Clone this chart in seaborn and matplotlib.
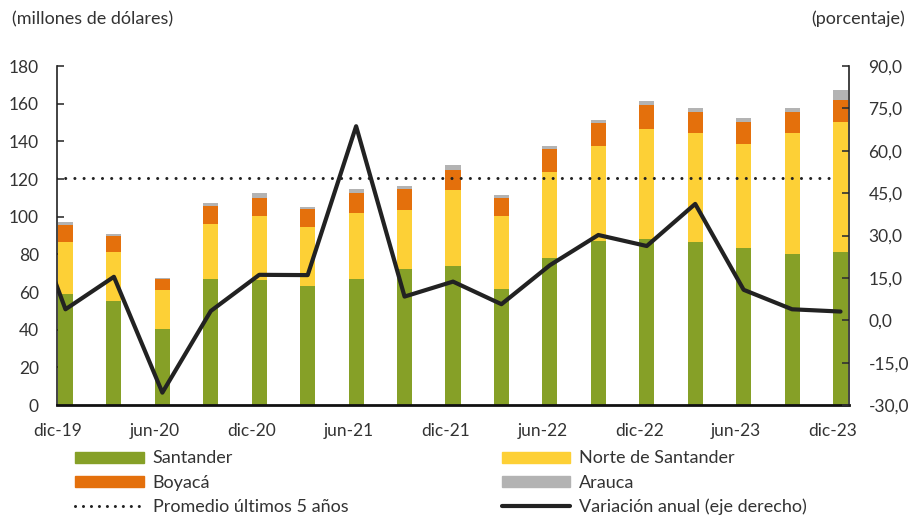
import numpy as np
import pandas as pd
import matplotlib
matplotlib.use('Agg')
import matplotlib.pyplot as plt
import seaborn as sns
from matplotlib.patches import Patch
from matplotlib.lines import Line2D

# datos (millones de dólares)
trimestres = ['dic-19', 'mar-20', 'jun-20', 'sep-20', 'dic-20', 'mar-21', 'jun-21', 'sep-21', 'dic-21',
              'mar-22', 'jun-22', 'sep-22', 'dic-22', 'mar-23', 'jun-23', 'sep-23', 'dic-23']
santander = [58.9, 55.5, 40.4, 67.0, 66.3, 63.0, 67.0, 72.5, 73.8, 61.5, 78.0, 86.9, 88.1, 86.7, 83.3, 80.0, 81.2]
norte = [27.8, 25.9, 20.5, 29.3, 34.1, 31.3, 34.8, 31.2, 40.2, 38.9, 45.8, 50.4, 58.7, 57.5, 55.4, 64.2, 69.2]
boyaca = [9.1, 8.2, 6.1, 9.6, 9.7, 9.6, 11.0, 11.0, 11.0, 9.7, 12.0, 12.2, 12.3, 11.5, 11.7, 11.5, 11.5]
arauca = [1.2, 1.2, 0.6, 1.4, 2.5, 1.4, 2.1, 1.5, 2.7, 1.3, 1.5, 2.1, 2.6, 2.1, 2.1, 2.1, 5.5]
promedio = 120.6
# variación anual (%), el primer valor (sep-19) queda recortado por el eje
variacion = [50.0, 3.9, 15.4, -25.6, 3.3, 16.1, 16.0, 68.7, 8.4, 13.7, 5.7, 19.5, 30.2, 26.3, 41.2, 10.8, 3.9, 3.1]

colores = {'Santander': '#86A027', 'Norte de Santander': '#FDD036',
           'Boyacá': '#E4700C', 'Arauca': '#B3B3B3'}

sns.set_theme(style='white')
plt.rcParams['font.family'] = ['Lato', 'DejaVu Sans']
plt.rcParams['text.color'] = '#333333'

n = len(trimestres)
df = pd.DataFrame({'pos': np.arange(n) + 0.155,
                   'Santander': santander, 'Norte': norte, 'Boyaca': boyaca, 'Arauca': arauca})
df['c1'] = df['Santander']
df['c2'] = df['c1'] + df['Norte']
df['c3'] = df['c2'] + df['Boyaca']
df['c4'] = df['c3'] + df['Arauca']

fig = plt.figure(figsize=(9.09, 5.16), dpi=100)
ax = fig.add_axes([0.0627, 0.215, 0.8713, 0.657])

# barras apiladas: se dibujan los acumulados de arriba hacia abajo
for col, nombre in [('c4', 'Arauca'), ('c3', 'Boyacá'), ('c2', 'Norte de Santander'), ('c1', 'Santander')]:
    sns.barplot(data=df, x='pos', y=col, native_scale=True, width=0.31, color=colores[nombre],
                saturation=1, errorbar=None, ax=ax, linewidth=0)

# promedio últimos 5 años
xs_prom = np.arange(-1, n)
sns.lineplot(x=xs_prom, y=np.full(len(xs_prom), promedio), ax=ax, color='#222222',
             linewidth=2.2, linestyle=(0, (0.01, 3.0)), dash_capstyle='round')

ax.set_ylim(0, 180)
ax.set_yticks(range(0, 181, 20))
ax.set_xlim(-0.02, 16.33)
ax.set_xticks(range(0, n, 2))
ax.set_xticklabels(trimestres[::2])
ax.set_xlabel('')
ax.set_ylabel('')

# variación anual en eje derecho
ax2 = ax.twinx()
xs_var = np.arange(-1, n) + 0.155
sns.lineplot(x=xs_var, y=variacion, ax=ax2, color='#222222', linewidth=3)
ax2.set_ylim(-30, 90)
ax2.set_yticks(np.arange(-30, 91, 15))
ax2.set_yticklabels([f'{v:.1f}'.replace('.', ',') for v in np.arange(-30, 91, 15)])
ax2.set_ylabel('')
ax2.set_xlim(-0.02, 16.33)

for a in (ax, ax2):
    a.spines['top'].set_visible(False)
    a.grid(False)
ax.spines['right'].set_visible(False)
ax.spines['left'].set_linewidth(1.2)
ax.spines['left'].set_color('#222222')
ax.spines['bottom'].set_linewidth(2)
ax.spines['bottom'].set_color('#111111')
ax2.spines['left'].set_visible(False)
ax2.spines['bottom'].set_visible(False)
ax2.spines['right'].set_linewidth(1.2)
ax2.spines['right'].set_color('#222222')

ax.tick_params(axis='y', direction='in', length=5, width=1.2, pad=13, labelsize=12.5, colors='#333333')
ax.tick_params(axis='x', direction='in', length=5, width=2, pad=13, labelsize=12.5, colors='#333333')
ax2.tick_params(axis='y', direction='in', length=5, width=1.2, pad=14, labelsize=12.5, colors='#333333')
ax.tick_params(axis='x', color='#111111')

fig.text(0.013, 0.963, '(millones de dólares)', fontsize=13, va='center', ha='left')
fig.text(0.996, 0.963, '(porcentaje)', fontsize=13, va='center', ha='right')

# leyenda en dos columnas
h_izq = [Patch(color=colores['Santander']), Patch(color=colores['Boyacá']),
         Line2D([], [], color='#222222', linewidth=2.2, linestyle=(0, (0.01, 2.6)), dash_capstyle='round')]
l_izq = ['Santander', 'Boyacá', 'Promedio últimos 5 años']
h_der = [Patch(color=colores['Norte de Santander']), Patch(color=colores['Arauca']),
         Line2D([], [], color='#222222', linewidth=3)]
l_der = ['Norte de Santander', 'Arauca', 'Variación anual (eje derecho)']

kw = dict(loc='upper left', frameon=False, fontsize=13, handlelength=3.8, handleheight=0.55,
          handletextpad=0.5, labelspacing=0.45, borderpad=0, borderaxespad=0)
fig.legend(h_izq, l_izq, bbox_to_anchor=(0.0825, 0.127), **kw)
fig.legend(h_der, l_der, bbox_to_anchor=(0.552, 0.127), **kw)

plt.savefig('out.png', dpi=100)
